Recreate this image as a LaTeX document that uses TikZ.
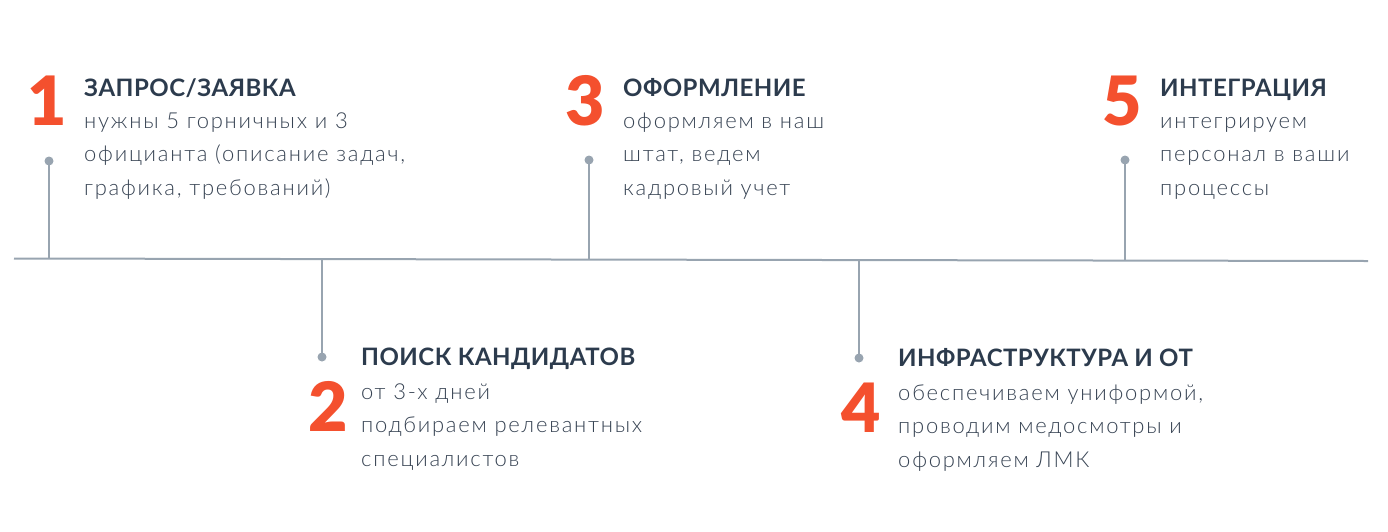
\documentclass[tikz,border=0pt]{standalone}
\usepackage{fontspec}
\setmainfont{Lato}
\IfFontExistsTF{Lato Light}
  {\newfontfamily\bodyf[LetterSpace=8]{Lato Light}}
  {\newfontfamily\bodyf[LetterSpace=8]{Lato}}
\newfontfamily\ttlf[LetterSpace=2]{Lato}
\IfFontExistsTF{Lato Black}
  {\newfontfamily\numf{Lato Black}}
  {\newfontfamily\numf[FakeBold=1.5]{Lato Bold}}
\definecolor{numc}{HTML}{F4502E}
\definecolor{ttlc}{HTML}{2C3B4D}
\definecolor{bodyc}{HTML}{374353}
\definecolor{linec}{HTML}{98A4B0}
\tikzset{
  num/.style={font=\fontsize{68}{68}\selectfont\numf, text=numc, inner sep=0pt, anchor=base west},
  ttl/.style={font=\fontsize{24}{28}\selectfont\ttlf\bfseries, text=ttlc, inner sep=0pt, anchor=base west},
  body/.style={font=\fontsize{22}{33.5}\selectfont\bodyf, text=bodyc, inner sep=0pt, anchor=base west},
  dotn/.style={circle, fill=linec, inner sep=0pt, minimum size=9pt},
  ln/.style={draw=linec, line width=2pt},
}
\newcommand{\bodytext}[1]{\parbox[t]{14cm}{\raggedright #1}}
\begin{document}
\begin{tikzpicture}[x=1pt,y=-1pt]
\useasboundingbox (0,0) rectangle (1388,531);
% timeline
\coordinate (L) at (14,258.5);
\coordinate (R) at (1368,261);
\draw[ln] (L) -- (R);
% dots and stems
\node[dotn] (d1) at (49,161) {};
\node[dotn] (d2) at (322,357) {};
\node[dotn] (d3) at (589,160) {};
\node[dotn] (d4) at (859,358) {};
\node[dotn] (d5) at (1125,160) {};
\coordinate (b1) at (49,258.6);
\coordinate (b2) at (322,259.1);
\coordinate (b3) at (589,259.6);
\coordinate (b4) at (859,260.1);
\coordinate (b5) at (1125,260.5);
\draw[ln] (d1.center) -- (b1);
\draw[ln] (d2.center) -- (b2);
\draw[ln] (d3.center) -- (b3);
\draw[ln] (d4.center) -- (b4);
\draw[ln] (d5.center) -- (b5);
% step 1
\node[num] (n1) at (27,125) {1};
\node[ttl] (t1) at (84,96) {ЗАПРОС/ЗАЯВКА};
\node[body] (p1) at (84,128) {\bodytext{нужны 5 горничных и 3\\официанта (описание задач,\\графика, требований)}};
% step 2
\node[num] (n2) at (308,431) {2};
\node[ttl] (t2) at (361,365) {ПОИСК КАНДИДАТОВ};
\node[body] (p2) at (361,399) {\bodytext{от 3-х дней\\подбираем релевантных\\специалистов}};
% step 3
\node[num] (n3) at (565,125) {3};
\node[ttl] (t3) at (623,96) {ОФОРМЛЕНИЕ};
\node[body] (p3) at (623,128) {\bodytext{оформляем в наш\\штат, ведем\\кадровый учет}};
% step 4
\node[num] (n4) at (841,432) {4};
\node[ttl] (t4) at (898,366) {ИНФРАСТРУКТУРА И ОТ};
\node[body] (p4) at (898,400) {\bodytext{обеспечиваем униформой,\\проводим медосмотры и\\оформляем ЛМК}};
% step 5
\node[num] (n5) at (1102,125) {5};
\node[ttl] (t5) at (1160,96) {ИНТЕГРАЦИЯ};
\node[body] (p5) at (1160,128) {\bodytext{интегрируем\\персонал в ваши\\процессы}};
\end{tikzpicture}
\end{document}
